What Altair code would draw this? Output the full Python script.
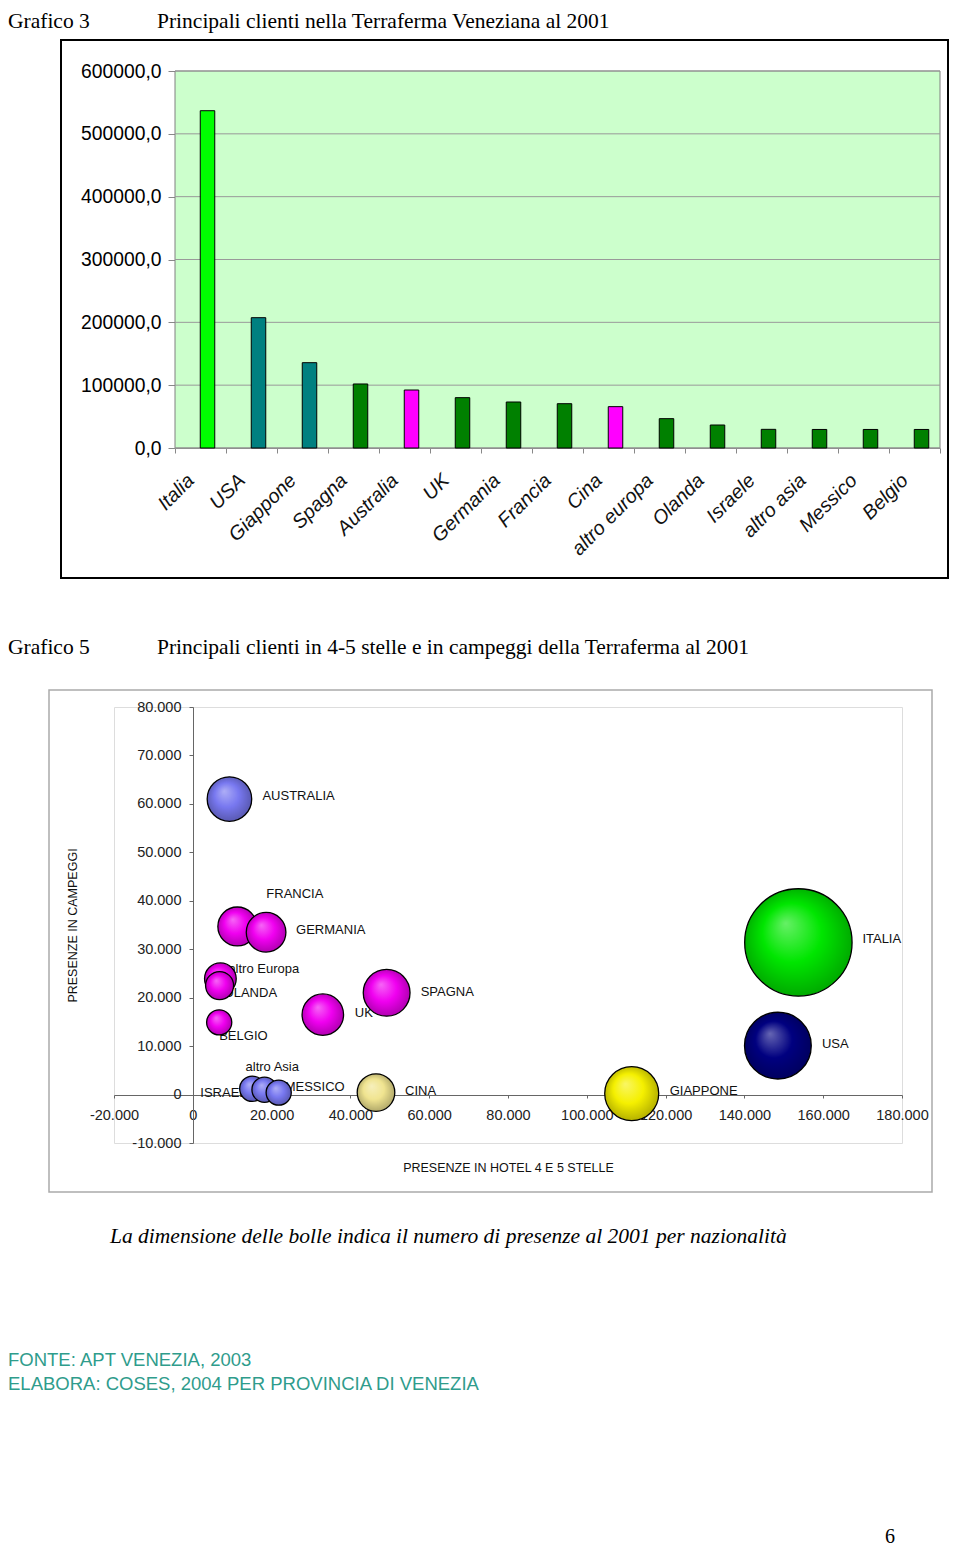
import altair as alt
import pandas as pd

# ---------------- Grafico 3 : bar chart data ----------------
bar_names = ["Italia", "USA", "Giappone", "Spagna", "Australia", "UK", "Germania",
             "Francia", "Cina", "altro europa", "Olanda", "Israele", "altro asia",
             "Messico", "Belgio"]
bar_values = [536800, 207400, 135800, 101900, 92300, 80100, 73200,
              70500, 65800, 46700, 36600, 29700, 29500, 29500, 29500]
bar_colors = ["#00FF00", "#008080", "#008080", "#008000", "#FF00FF", "#008000", "#008000",
              "#008000", "#FF00FF", "#008000", "#008000", "#008000", "#008000",
              "#008000", "#008000"]
bar_y_ticks = [0, 100000, 200000, 300000, 400000, 500000, 600000]

# ---------------- Grafico 5 : bubble chart data ----------------
bub_names = ["AUSTRALIA", "FRANCIA", "GERMANIA", "altro Europa", "OLANDA", "BELGIO", "UK",
             "SPAGNA", "CINA", "ISRAELE", "altro Asia", "MESSICO", "GIAPPONE", "USA", "ITALIA"]
bub_hotel = [9300, 11300, 18600, 7000, 6800, 6700, 33000,
             49200, 46500, 15100, 18200, 21800, 111400, 148500, 153700]
bub_camp = [61000, 34700, 33500, 23900, 22500, 14900, 16500,
            21000, 400, 1200, 1000, 400, 200, 10100, 31400]
bub_total = [92300, 70500, 73200, 46700, 36600, 29500, 80100,
             101900, 65800, 29700, 29500, 29500, 135800, 207400, 536800]
bub_colors = ["#7878F0", "#F000F0", "#F000F0", "#F000F0", "#F000F0", "#F000F0", "#F000F0",
              "#F000F0", "#F0E490", "#7878F0", "#7878F0", "#7878F0", "#F5F000", "#000080", "#00E600"]
bub_x_ticks = [-20000, 0, 20000, 40000, 60000, 80000, 100000, 120000, 140000, 160000, 180000]
bub_y_ticks = [-10000, 0, 10000, 20000, 30000, 40000, 50000, 60000, 70000, 80000]

SANS = "Liberation Sans"
SERIF = "Liberation Serif"
GRID = "#8f8f8f"
TEAL = "#2F9C8C"

# layout (pixels, relative to the bubble plot's top-left corner)
BAR_L, BAR_R, BAR_T, BAR_B = 61, 826, -636, -259


def note(text, x, y, size=21.5, font=SERIF, style="normal", color="black", align="left"):
    return alt.Chart(pd.DataFrame({"t": [text]})).mark_text(
        align=align, baseline="middle", font=font, fontSize=size, fontStyle=style, color=color
    ).encode(x=alt.value(x), y=alt.value(y), text="t:N")


def box(x1, x2, y1, y2, color, width, fill="white", fill_opacity=0.0):
    return alt.Chart(pd.DataFrame({"a": [0]})).mark_rect(
        fill=fill, fillOpacity=fill_opacity, stroke=color, strokeWidth=width
    ).encode(x=alt.value(x1), x2=alt.value(x2), y=alt.value(y1), y2=alt.value(y2))


def mix(c, target, t):
    h = c.lstrip("#")
    rgb = [int(h[i:i + 2], 16) for i in (0, 2, 4)]
    return "#%02x%02x%02x" % tuple(round(v + (tv - v) * t) for v, tv in zip(rgb, target))


def sphere(c):
    return {"gradient": "radial", "x1": 0.38, "y1": 0.32, "r1": 0,
            "x2": 0.5, "y2": 0.5, "r2": 0.55,
            "stops": [{"offset": 0, "color": mix(c, (255, 255, 255), 0.4)},
                      {"offset": 0.5, "color": c},
                      {"offset": 1, "color": mix(c, (0, 0, 0), 0.3)}]}


# ---------------- Grafico 3 (bar chart) ----------------
bar_df = pd.DataFrame({"name": bar_names, "v": bar_values, "c": bar_colors})
grid_df = pd.DataFrame({"v": bar_y_ticks})

BX = alt.X("name:N", sort=bar_names, title=None,
           scale=alt.Scale(range=[BAR_L, BAR_R], paddingInner=0, paddingOuter=0),
           axis=alt.Axis(orient="bottom", offset=-(436 - BAR_B), labelAngle=315,
                         labelAlign="right", labelBaseline="middle", labelOffset=-10,
                         labelFont=SANS, labelFontSize=19.8, labelFontStyle="italic",
                         labelColor="#111", labelPadding=24, tickBand="extent",
                         tickSize=5, tickColor="#888", domainColor="#888",
                         labelOverlap=False, grid=False))
BY = alt.Y("v:Q", title=None,
           scale=alt.Scale(domain=[0, 600000], range=[BAR_B, BAR_T], nice=False, zero=False),
           axis=alt.Axis(orient="left", offset=-BAR_L, values=bar_y_ticks,
                         labelExpr="format(datum.value, 'd') + ',0'",
                         labelFont=SANS, labelFontSize=19.3, labelColor="black",
                         labelPadding=7, tickSize=7, tickColor="#888", domain=False,
                         grid=False, labelOverlap=False))

bar_bg = box(BAR_L, BAR_R, BAR_T, BAR_B, "#808080", 1, fill="#CCFFCC", fill_opacity=1)
bar_grid = alt.Chart(grid_df).mark_rule(color="#999999", strokeWidth=1).encode(
    y=BY, x=alt.value(BAR_L), x2=alt.value(BAR_R))
bars = alt.Chart(bar_df).mark_bar(width=14.5, xOffset=7, stroke="black", strokeWidth=1).encode(
    x=BX, y=BY, color=alt.Color("c:N", scale=None))
bar_group = alt.layer(bar_bg, bar_grid, bars)

# ---------------- Grafico 5 (bubble chart) ----------------
FMT = "(datum.value < 0 ? '-' : '') + replace(format(abs(datum.value), ',d'), ',', '.')"
bub_df = pd.DataFrame({"name": bub_names, "hotel": bub_hotel, "camp": bub_camp,
                       "tot": bub_total, "c": bub_colors})

X = alt.X("hotel:Q", scale=alt.Scale(domain=[-20000, 180000], nice=False, zero=False),
          axis=alt.Axis(orient="bottom", offset=-48, values=bub_x_ticks, labelExpr=FMT,
                        grid=False, labelFont=SANS, labelFontSize=14.5, labelColor="#222",
                        labelPadding=10, tickSize=3, tickColor="#666", domainColor="#666",
                        labelFlush=False, labelOverlap=False,
                        title="PRESENZE IN HOTEL 4 E 5 STELLE", titleFont=SANS,
                        titleFontSize=12.5, titleFontWeight="normal", titleColor="#111",
                        titleX=394, titleY=72, titleBaseline="middle", titleAlign="center"))
Y = alt.Y("camp:Q", scale=alt.Scale(domain=[-10000, 80000], nice=False, zero=False),
          axis=alt.Axis(orient="left", offset=-79, values=bub_y_ticks, labelExpr=FMT,
                        labelFont=SANS, labelFontSize=14.5, labelColor="#222",
                        labelPadding=8, tickSize=4, tickColor="#666", domainColor="#666",
                        gridColor=GRID, gridWidth=1, labelFlush=False, labelOverlap=False,
                        title="PRESENZE IN CAMPEGGI", titleFont=SANS, titleFontSize=12.5,
                        titleFontWeight="normal", titleColor="#111", titleAngle=270,
                        titleX=-121, titleY=218, titleAlign="center", titleBaseline="middle"))
# symbol size is the area of the bounding square: (diameter)^2
S = alt.Size("tot:Q", scale=alt.Scale(domain=[0, 537000], range=[0, 11535]), legend=None)

label_offsets = {
    "AUSTRALIA": (33, -3), "FRANCIA": (29, -32), "GERMANIA": (30, -2),
    "altro Europa": (8, -10), "OLANDA": (4, 7), "BELGIO": (0, 14), "UK": (32, -2),
    "SPAGNA": (34, -1), "CINA": (29, -2), "ISRAELE": (-52, 4), "altro Asia": (-19, -23),
    "MESSICO": (6, -6), "GIAPPONE": (38, -3), "USA": (44, -2), "ITALIA": (64, -3),
}
label_layers = []
for nm, (dx, dy) in label_offsets.items():
    label_layers.append(
        alt.Chart(bub_df).transform_filter(alt.datum.name == nm).mark_text(
            align="left", baseline="middle", dx=dx, dy=dy, font=SANS, fontSize=13, color="#111"
        ).encode(x=X, y=Y, text="name:N")
    )

bubble_layers = []
seen = []
for c in bub_colors:
    if c not in seen:
        seen.append(c)
for c in seen:
    bubble_layers.append(
        alt.Chart(bub_df).transform_filter(alt.datum.c == c).mark_circle(
            fill=sphere(c), opacity=1, stroke="black", strokeWidth=1.3
        ).encode(x=X, y=Y, size=S)
    )
bubble_group = alt.layer(*label_layers, *bubble_layers)

# ---------------- page ----------------
chart = alt.layer(
    box(-53, 834, -667, -129, "black", 2),
    note("Grafico 3", -106, -685),
    note("Principali clienti nella Terraferma Veneziana al 2001", 43, -685),
    bar_group,
    box(-65, 818, -17, 485, "#aaaaaa", 1.5),
    note("Grafico 5", -106, -59),
    note("Principali clienti in 4-5 stelle e in campeggi della Terraferma al 2001", 43, -59),
    bubble_group,
    note("La dimensione delle bolle indica il numero di presenze al 2001 per nazionalità",
         -4, 530, size=21.5, style="italic"),
    note("FONTE: APT VENEZIA, 2003", -106, 653, size=18.5, font=SANS, color=TEAL),
    note("ELABORA: COSES, 2004 PER PROVINCIA DI VENEZIA", -106, 677, size=18.5, font=SANS,
         color=TEAL),
    note("6", 771, 830, size=20),
).resolve_scale(x="independent", y="independent").properties(
    width=788, height=436, padding={"top": 3, "left": 0, "right": 0, "bottom": 0}
).configure_view(
    fill="#CCFFCC", stroke="#808080", strokeWidth=1
).configure(background="white")

chart.save("out.html", embed_options={"renderer": "svg", "actions": False})
